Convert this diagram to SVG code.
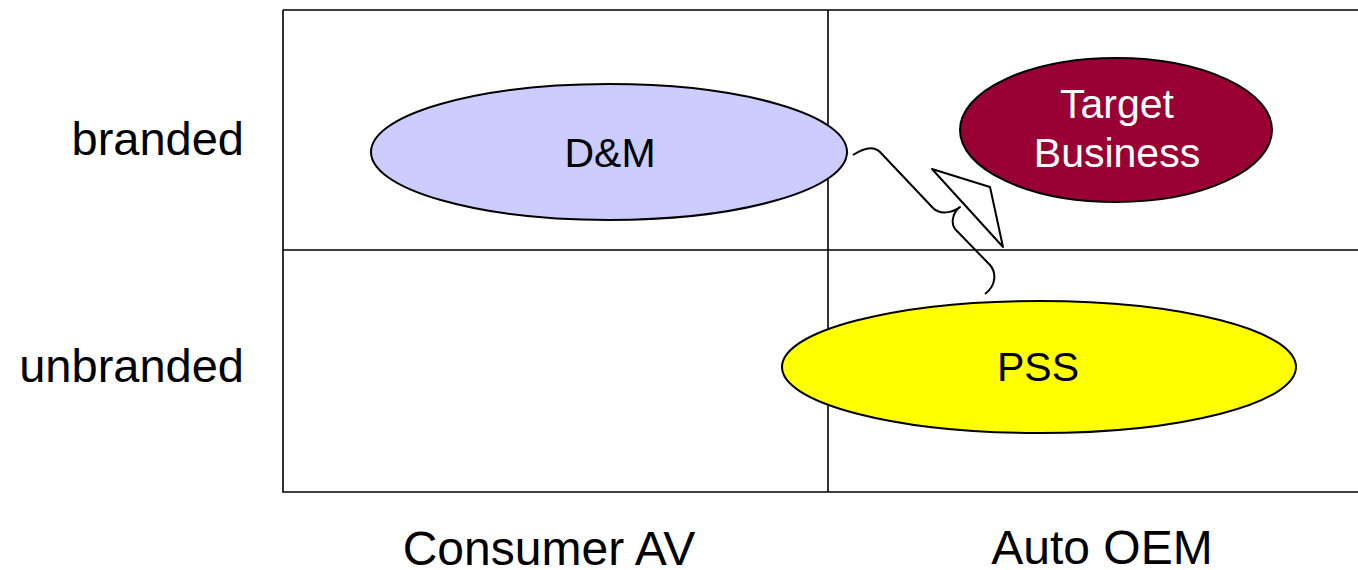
<svg xmlns="http://www.w3.org/2000/svg" width="1358" height="570" viewBox="0 0 1358 570">
<style>
.grid{fill:none;stroke:#000;stroke-width:1.6}
.node{stroke:#000;stroke-width:2}
.lbl{font-family:"Liberation Sans",Arial,sans-serif;font-size:47px;fill:#000}
.nt{font-family:"Liberation Sans",Arial,sans-serif;font-size:41px;text-anchor:middle}
.conn{fill:none;stroke:#000;stroke-width:2;stroke-linejoin:round}
</style>
<g id="grid">
<path class="grid" d="M283,10 H1360 M283,10 V492 H1360 M828,10 V492 M283,250 H1360"/>
</g>
<g id="axis-labels">
<text class="lbl" x="244" y="155" text-anchor="end">branded</text>
<text class="lbl" x="244" y="382" text-anchor="end">unbranded</text>
<text class="lbl" x="549" y="565" text-anchor="middle" style="font-size:48px">Consumer AV</text>
<text class="lbl" x="1102" y="564" text-anchor="middle" style="font-size:48px">Auto OEM</text>
</g>
<g id="node-dm">
<ellipse class="node" cx="609" cy="152" rx="238" ry="68" fill="#CCCCFF"/>
<text class="nt" x="610" y="167" fill="#000">D&amp;M</text>
</g>
<g id="node-target">
<ellipse class="node" cx="1116" cy="130" rx="156" ry="72" fill="#990033"/>
<text class="nt" x="1117" y="118" fill="#fff">Target</text>
<text class="nt" x="1117" y="167" fill="#fff">Business</text>
</g>
<g id="node-pss">
<ellipse class="node" cx="1039" cy="367" rx="257" ry="66" fill="#FFFF00"/>
<text class="nt" x="1038" y="381" fill="#000">PSS</text>
</g>
<g id="connectors">
<path class="conn" d="M853,155 C862,149 873,145 880,152 L933,208 C940,215 952,213 960,207 C952,213 951,224 955,229 L990,265 C996,272 997,285 985,294"/>
<polygon class="conn" points="932,169 990,187 1003,247" fill="#fff"/>
</g>
</svg>
